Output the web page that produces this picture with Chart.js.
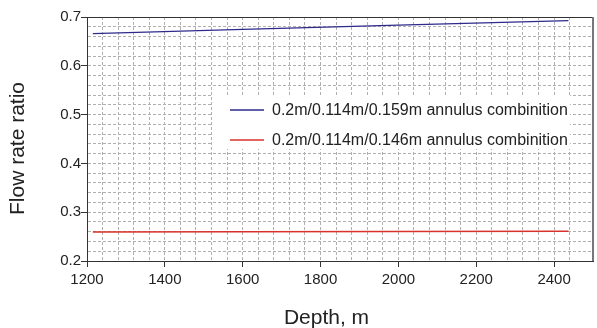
<!DOCTYPE html>
<html>
<head>
<meta charset="utf-8">
<script src="https://cdn.jsdelivr.net/npm/chart.js@4/dist/chart.umd.min.js"></script>
<style>
html,body{margin:0;padding:0;background:#fff;}
#wrap{position:relative;width:597px;height:328px;}
</style>
</head>
<body>
<div id="wrap"><canvas id="c" width="597" height="328"></canvas></div>
<script>
const depths = [1215, 1600, 2000, 2437];
const series159 = [0.666, 0.6745, 0.6832, 0.6926];
const series146 = [0.2594, 0.2598, 0.2604, 0.2612];
const seriesLabels = ['0.2m/0.114m/0.159m annulus combinition', '0.2m/0.114m/0.146m annulus combinition'];
const seriesColors = ['#2e2a8c', '#d8322a'];
const xTickLabels = [1200, 1400, 1600, 1800, 2000, 2200, 2400];
const yTickLabels = [0.2, 0.3, 0.4, 0.5, 0.6, 0.7];
const xTitle = 'Depth, m';
const yTitle = 'Flow rate ratio';

const FONT = '"Liberation Sans", Arial, sans-serif';

const frame = {
  id: 'frame',
  afterDatasetsDraw(chart) {
    const {ctx, chartArea: a} = chart;
    ctx.save();
    // legend box
    const lx = 213, ly = 95, lw = 357, lh = 54;
    ctx.fillStyle = '#fff';
    ctx.fillRect(lx, ly, lw, lh);
    chart.data.datasets.forEach((ds, i) => {
      const y = 110 + i * 30;
      ctx.strokeStyle = ds.borderColor;
      ctx.lineWidth = 1.3;
      ctx.beginPath();
      ctx.moveTo(230, y); ctx.lineTo(264, y); ctx.stroke();
      ctx.fillStyle = '#222';
      ctx.font = '16px ' + FONT;
      ctx.textBaseline = 'middle';
      ctx.textAlign = 'left';
      ctx.fillText(ds.label, 272, y + 1);
    });
    // frame
    ctx.strokeStyle = '#333';
    ctx.lineWidth = 1;
    ctx.beginPath();
    ctx.moveTo(a.left, a.top + 0.5); ctx.lineTo(a.right, a.top + 0.5);
    ctx.stroke();
    ctx.strokeStyle = '#777';
    ctx.lineWidth = 2;
    ctx.beginPath();
    ctx.moveTo(a.right, a.top); ctx.lineTo(a.right, a.bottom);
    ctx.stroke();
    // axis titles
    ctx.fillStyle = '#222';
    ctx.font = '21px ' + FONT;
    ctx.textAlign = 'center';
    ctx.textBaseline = 'middle';
    ctx.fillText(xTitle, 326.5, 318);
    ctx.translate(18.5, 148.5);
    ctx.rotate(-Math.PI / 2);
    ctx.fillText(yTitle, 0, 0);
    ctx.restore();
  }
};

new Chart(document.getElementById('c'), {
  type: 'line',
  data: {
    labels: depths,
    datasets: [
      {label: seriesLabels[0], data: depths.map((d, i) => ({x: d, y: series159[i]})), borderColor: seriesColors[0], borderWidth: 1.3, pointRadius: 0, fill: false, tension: 0},
      {label: seriesLabels[1], data: depths.map((d, i) => ({x: d, y: series146[i]})), borderColor: seriesColors[1], borderWidth: 1.5, pointRadius: 0, fill: false, tension: 0}
    ]
  },
  options: {
    responsive: false,
    animation: false,
    layout: {padding: {top: 17, right: 2, left: 0, bottom: 0}},
    plugins: {legend: {display: false}, tooltip: {enabled: false}},
    scales: {
      x: {
        type: 'linear', min: 1200, max: 2500,
        afterFit(s) { s.height = 67; },
        ticks: {
          stepSize: 40, autoSkip: false, maxRotation: 0, padding: 4,
          color: '#222', font: {family: FONT, size: 15},
          callback: v => xTickLabels.includes(Math.round(v)) ? String(Math.round(v)) : ''
        },
        grid: {
          color: '#b0b0b0', lineWidth: 1, tickLength: 6,
          tickColor: c => (c.tick && Math.round(c.tick.value) % 200 === 0) ? '#333' : 'rgba(0,0,0,0)',
          tickBorderDash: []
        },
        border: {display: true, color: '#333', width: 1, dash: [3, 2]},
        title: {display: false}
      },
      y: {
        type: 'linear', min: 0.2, max: 0.7,
        afterFit(s) { s.width = 87; },
        ticks: {
          stepSize: 0.02, autoSkip: false, padding: 0,
          color: '#222', font: {family: FONT, size: 15},
          callback: v => { const r = Math.round(v * 100); return r % 10 === 0 && yTickLabels.includes(r / 100) ? (r / 100).toFixed(1) : ''; }
        },
        grid: {
          color: '#b0b0b0', lineWidth: 1, tickLength: 6,
          tickColor: c => (c.tick && Math.round(c.tick.value * 100) % 10 === 0) ? '#333' : 'rgba(0,0,0,0)',
          tickBorderDash: []
        },
        border: {display: true, color: '#333', width: 1, dash: [3, 2]},
        title: {display: false}
      }
    }
  },
  plugins: [frame]
});
</script>
</body>
</html>
